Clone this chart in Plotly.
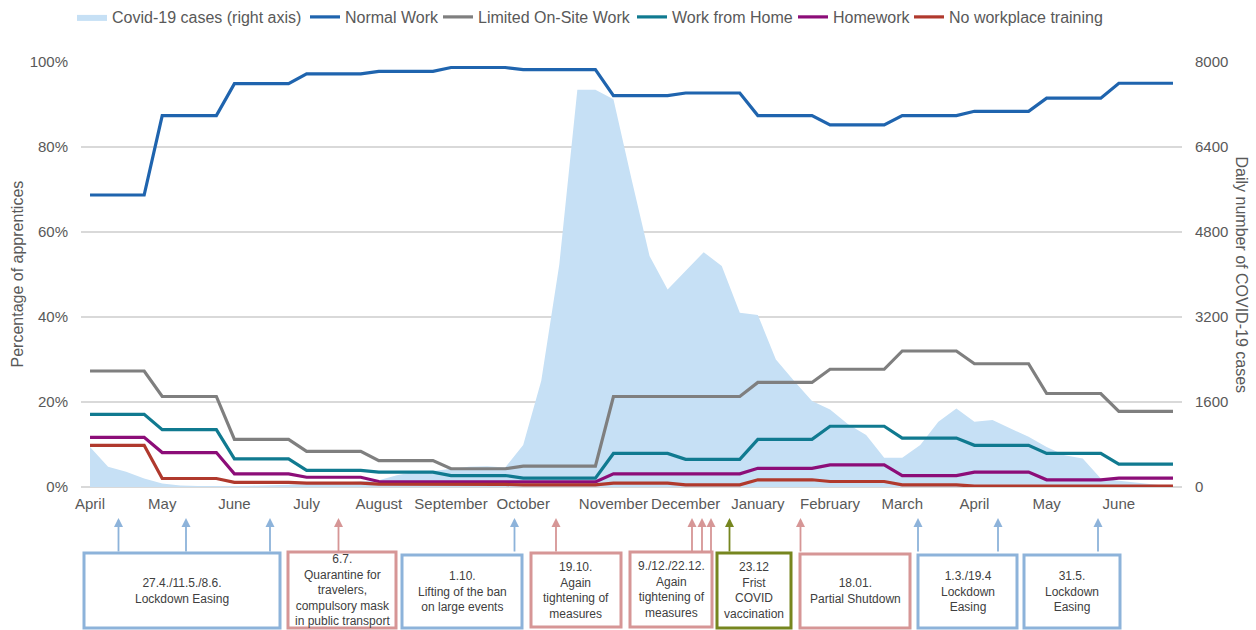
import plotly.graph_objects as go

# ---------------- data ----------------
# 61 weekly categories, April 2020 .. June 2021 (October has 5 weeks)
month_labels = ["April", "May", "June", "July", "August", "September", "October",
                "November", "December", "January", "February", "March", "April", "May", "June"]
month_first_week = [0, 4, 8, 12, 16, 20, 24, 29, 33, 37, 41, 45, 49, 53, 57]
weeks = list(range(61))

covid_cases = [
    755, 380, 285, 160,            # Apr
    65, 30, 20, 15,                # May
    20, 25, 30, 40,                # Jun
    50, 60, 80, 110,               # Jul
    125, 220, 285, 300,            # Aug
    345, 380, 390, 365,            # Sep
    790, 2000, 4190, 7480, 7480,   # Oct
    7300, 5800, 4350, 3720,        # Nov
    4060, 4420, 4160, 3280,        # Dec
    3240, 2400, 2000, 1620,        # Jan
    1460, 1180, 980, 550,          # Feb
    550, 790, 1230, 1480,          # Mar
    1230, 1260, 1100, 945,         # Apr
    755, 600, 535, 160,            # May
    120, 80, 40, 10,               # Jun
]

normal_work = [
    68.7, 68.7, 68.7, 68.7,
    87.4, 87.4, 87.4, 87.4,
    94.9, 94.9, 94.9, 94.9,
    97.2, 97.2, 97.2, 97.2,
    97.8, 97.8, 97.8, 97.8,
    98.7, 98.7, 98.7, 98.7,
    98.2, 98.2, 98.2, 98.2, 98.2,
    92.1, 92.1, 92.1, 92.1,
    92.7, 92.7, 92.7, 92.7,
    87.4, 87.4, 87.4, 87.4,
    85.2, 85.2, 85.2, 85.2,
    87.4, 87.4, 87.4, 87.4,
    88.4, 88.4, 88.4, 88.4,
    91.5, 91.5, 91.5, 91.5,
    95.0, 95.0, 95.0, 95.0,
]

limited_onsite = [
    27.3, 27.3, 27.3, 27.3,
    21.3, 21.3, 21.3, 21.3,
    11.2, 11.2, 11.2, 11.2,
    8.4, 8.4, 8.4, 8.4,
    6.2, 6.2, 6.2, 6.2,
    4.3, 4.3, 4.3, 4.3,
    4.9, 4.9, 4.9, 4.9, 4.9,
    21.3, 21.3, 21.3, 21.3,
    21.3, 21.3, 21.3, 21.3,
    24.6, 24.6, 24.6, 24.6,
    27.7, 27.7, 27.7, 27.7,
    32.0, 32.0, 32.0, 32.0,
    29.0, 29.0, 29.0, 29.0,
    22.0, 22.0, 22.0, 22.0,
    17.8, 17.8, 17.8, 17.8,
]

work_from_home = [
    17.1, 17.1, 17.1, 17.1,
    13.5, 13.5, 13.5, 13.5,
    6.6, 6.6, 6.6, 6.6,
    3.9, 3.9, 3.9, 3.9,
    3.5, 3.5, 3.5, 3.5,
    2.7, 2.7, 2.7, 2.7,
    2.1, 2.1, 2.1, 2.1, 2.1,
    7.9, 7.9, 7.9, 7.9,
    6.5, 6.5, 6.5, 6.5,
    11.2, 11.2, 11.2, 11.2,
    14.3, 14.3, 14.3, 14.3,
    11.5, 11.5, 11.5, 11.5,
    9.8, 9.8, 9.8, 9.8,
    7.9, 7.9, 7.9, 7.9,
    5.4, 5.4, 5.4, 5.4,
]

homework = [
    11.7, 11.7, 11.7, 11.7,
    8.1, 8.1, 8.1, 8.1,
    3.1, 3.1, 3.1, 3.1,
    2.3, 2.3, 2.3, 2.3,
    1.3, 1.3, 1.3, 1.3,
    1.3, 1.3, 1.3, 1.3,
    1.2, 1.2, 1.2, 1.2, 1.2,
    3.1, 3.1, 3.1, 3.1,
    3.1, 3.1, 3.1, 3.1,
    4.4, 4.4, 4.4, 4.4,
    5.2, 5.2, 5.2, 5.2,
    2.7, 2.7, 2.7, 2.7,
    3.5, 3.5, 3.5, 3.5,
    1.7, 1.7, 1.7, 1.7,
    2.1, 2.1, 2.1, 2.1,
]

no_training = [
    9.8, 9.8, 9.8, 9.8,
    2.0, 2.0, 2.0, 2.0,
    1.1, 1.1, 1.1, 1.1,
    0.9, 0.9, 0.9, 0.9,
    0.7, 0.7, 0.7, 0.7,
    0.6, 0.6, 0.6, 0.6,
    0.5, 0.5, 0.5, 0.5, 0.5,
    0.9, 0.9, 0.9, 0.9,
    0.5, 0.5, 0.5, 0.5,
    1.7, 1.7, 1.7, 1.7,
    1.3, 1.3, 1.3, 1.3,
    0.5, 0.5, 0.5, 0.5,
    0.2, 0.2, 0.2, 0.2,
    0.3, 0.3, 0.3, 0.3,
    0.2, 0.2, 0.2, 0.2,
]

# event boxes: (text, colour)
events = [
    ("27.4./11.5./8.6.<br>Lockdown Easing", "blue"),
    ("6.7.<br>Quarantine for<br>travelers,<br>compulsory mask<br>in public transport", "red"),
    ("1.10.<br>Lifting of the ban<br>on large events", "blue"),
    ("19.10.<br>Again<br>tightening of<br>measures", "red"),
    ("9./12./22.12.<br>Again<br>tightening of<br>measures", "red"),
    ("23.12<br>Frist<br>COVID<br>vaccination", "green"),
    ("18.01.<br>Partial Shutdown", "red"),
    ("1.3./19.4<br>Lockdown<br>Easing", "blue"),
    ("31.5.<br>Lockdown<br>Easing", "blue"),
]

# ---------------- styling / layout geometry ----------------
W, H = 1256, 630
PL, PR, PT, PB = 81, 1182, 62, 487   # plot area in pixels

def fx(px):
    return (px - PL) / (PR - PL)

def fy(py):
    return (PB - py) / (PB - PT)

event_colors = {"blue": "#8DB3DA", "red": "#D69696", "green": "#76861F"}
box_px = [(84, 280, 553, 628), (288, 396, 552, 628), (402, 522, 555, 628),
          (531, 621, 553, 627), (630, 712, 552, 627), (717, 791, 553, 628),
          (800, 910, 554, 628), (918, 1017, 555, 628), (1024, 1120, 555, 628)]
arrow_px = [(118.5, "blue"), (186, "blue"), (270, "blue"), (338.5, "red"), (514.5, "blue"),
            (556, "red"), (692, "red"), (702, "red"), (711, "red"), (729.5, "green"),
            (800.5, "red"), (918, "blue"), (998, "blue"), (1098, "blue")]
# legend entry text start positions (px), one legend per entry
legend_text_px = [112, 345, 478, 672, 833, 949]

FONT = "Liberation Sans, Arial, sans-serif"
GREY_TXT = "#595959"

fig = go.Figure()

legend_ids = ["legend", "legend2", "legend3", "legend4", "legend5", "legend6"]

fig.add_trace(go.Scatter(
    x=weeks, y=covid_cases, name="Covid-19 cases (right axis)",
    mode="lines", fill="tozeroy", fillcolor="#C6E0F5",
    line=dict(width=0, color="#C6E0F5"), yaxis="y", legend=legend_ids[0]))

series = [
    ("Normal Work", normal_work, "#1F64AE"),
    ("Limited On-Site Work", limited_onsite, "#7F7F7F"),
    ("Work from Home", work_from_home, "#107A90"),
    ("Homework", homework, "#8C0D78"),
    ("No workplace training", no_training, "#B0392D"),
]
for k, (name, vals, col) in enumerate(series):
    fig.add_trace(go.Scatter(x=weeks, y=vals, name=name, mode="lines",
                             line=dict(color=col, width=3.2), yaxis="y2",
                             legend=legend_ids[k + 1]))

shapes = []
annotations = []
for (x0, x1, y0, y1), (txt, c) in zip(box_px, events):
    shapes.append(dict(type="rect", xref="paper", yref="paper",
                       x0=fx(x0), x1=fx(x1), y0=fy(y1), y1=fy(y0),
                       line=dict(color=event_colors[c], width=3), fillcolor="white"))
    annotations.append(dict(xref="paper", yref="paper", x=fx((x0 + x1) / 2), y=fy((y0 + y1) / 2),
                            text=txt, showarrow=False, xanchor="center", yanchor="middle",
                            align="center", font=dict(family=FONT, size=12, color="#404040")))
for xp, c in arrow_px:
    annotations.append(dict(xref="paper", yref="paper", x=fx(xp), y=fy(518), text="",
                            showarrow=True, ax=0, ay=35, arrowhead=2, arrowsize=1,
                            arrowwidth=1.8, arrowcolor=event_colors[c]))

annotations.append(dict(xref="paper", yref="paper", x=fx(17), y=0.5, text="Percentage of apprentices",
                        textangle=-90, showarrow=False, xanchor="center", yanchor="middle",
                        font=dict(family=FONT, size=16, color=GREY_TXT)))
annotations.append(dict(xref="paper", yref="paper", x=fx(1241), y=0.5, text="Daily number of COVID-19 cases",
                        textangle=90, showarrow=False, xanchor="center", yanchor="middle",
                        font=dict(family=FONT, size=16, color=GREY_TXT)))

legend_layout = {}
for lid, tx in zip(legend_ids, legend_text_px):
    legend_layout[lid] = dict(orientation="h", x=fx(tx - 40), xanchor="left", y=fy(17),
                              yanchor="middle", font=dict(family=FONT, size=16, color=GREY_TXT),
                              itemwidth=30, bgcolor="rgba(0,0,0,0)")

fig.update_layout(
    width=W, height=H,
    margin=dict(l=PL, r=W - PR, t=PT, b=H - PB, autoexpand=False),
    paper_bgcolor="white", plot_bgcolor="white",
    font=dict(family=FONT, color=GREY_TXT, size=15),
    showlegend=True,
    xaxis=dict(range=[-0.5, 60.5], tickmode="array", tickvals=month_first_week,
               ticktext=month_labels, showgrid=False, zeroline=False, showline=False,
               ticks="", ticklabelstandoff=6, tickfont=dict(size=15, color=GREY_TXT)),
    yaxis=dict(side="right", range=[0, 8000], tickmode="linear", tick0=0, dtick=1600,
               showgrid=True, gridcolor="#D9D9D9", gridwidth=1.6, zeroline=True,
               zerolinecolor="#D9D9D9", zerolinewidth=1.6, showline=False, ticks="",
               ticklabelstandoff=12, tickfont=dict(size=15, color=GREY_TXT)),
    yaxis2=dict(side="left", overlaying="y", range=[0, 100], tickmode="linear", tick0=0,
                dtick=20, ticksuffix="%", showgrid=False, zeroline=False, showline=False,
                ticks="", ticklabelstandoff=12, tickfont=dict(size=15, color=GREY_TXT)),
    shapes=shapes, annotations=annotations,
    **legend_layout,
)

fig.write_html("out.html", config={"displayModeBar": False},
               post_script="document.body.style.margin='0px';document.body.style.overflow='hidden';")
